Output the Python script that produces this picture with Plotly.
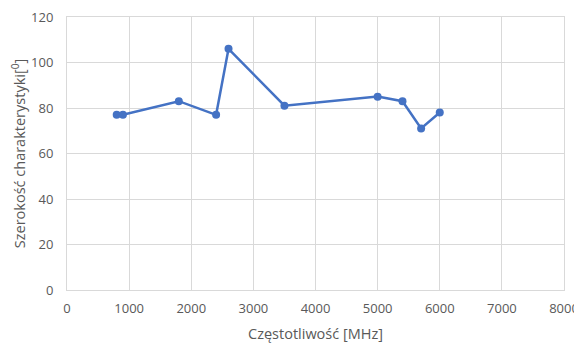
import plotly.graph_objects as go

freq_mhz = [800, 900, 1800, 2400, 2600, 3500, 5000, 5400, 5700, 6000]
beam_width = [77, 77, 83, 77, 106, 81, 85, 83, 71, 78]
x_ticks = [0, 1000, 2000, 3000, 4000, 5000, 6000, 7000, 8000]
y_ticks = [0, 20, 40, 60, 80, 100, 120]

fig = go.Figure()
fig.add_trace(go.Scatter(
    x=freq_mhz, y=beam_width, mode="lines+markers",
    line=dict(color="#4472C4", width=2.5),
    marker=dict(color="#4472C4", size=8),
    showlegend=False, cliponaxis=False,
))

font_family = "Open Sans, Noto Sans, sans-serif"
fig.update_layout(
    width=574, height=337,
    margin=dict(l=59, r=18, t=9, b=55, autoexpand=False),
    paper_bgcolor="white", plot_bgcolor="white",
    font=dict(family=font_family, color="#595959", size=13),
    xaxis=dict(
        range=[0, 8000], tickvals=x_ticks, ticktext=[str(v) for v in x_ticks],
        showgrid=True, gridcolor="#D9D9D9", gridwidth=1,
        showline=True, linecolor="#D9D9D9", mirror=True,
        zeroline=False, ticks="", ticklen=0, automargin=False,
        ticklabelstandoff=6, ticklabeloverflow="allow",
        tickfont=dict(size=13, color="#595959"),
        title=dict(text="Częstotliwość [MHz]", font=dict(size=14.5, color="#595959"), standoff=13),
    ),
    yaxis=dict(
        range=[0, 120], tickvals=y_ticks, ticktext=[str(v) for v in y_ticks],
        showgrid=True, gridcolor="#D9D9D9", gridwidth=1,
        showline=True, linecolor="#D9D9D9", mirror=True,
        zeroline=False, ticks="", ticklen=0, automargin=False,
        ticklabelstandoff=10, ticklabeloverflow="allow",
        tickfont=dict(size=13, color="#595959"),
        title=dict(text="Szerokość charakterystyki[<sup>0</sup>]", font=dict(size=14.5, color="#595959"), standoff=4),
    ),
)

fig.write_html("out.html")
